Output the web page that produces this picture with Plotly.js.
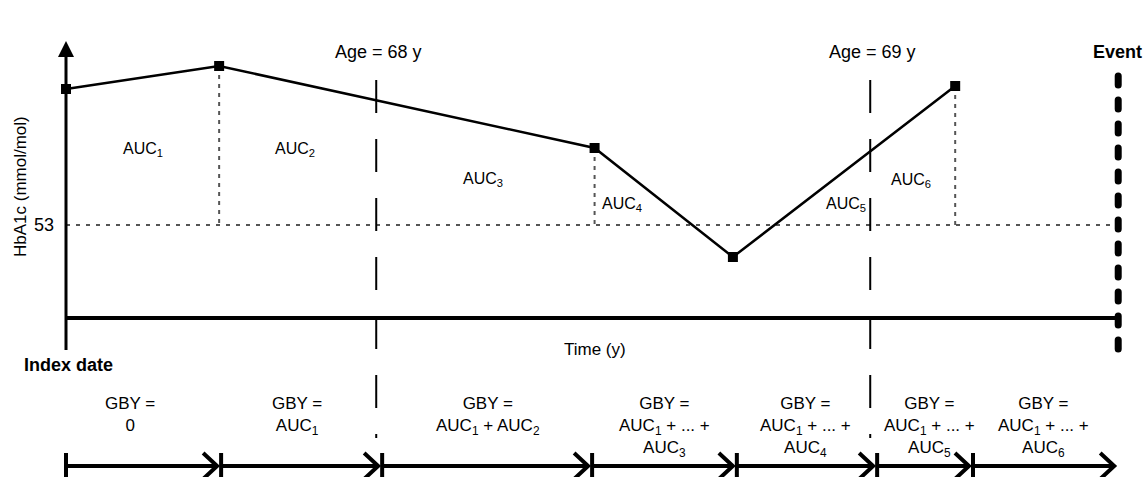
<!DOCTYPE html>
<html><head><meta charset="utf-8">
<script src="https://cdn.plot.ly/plotly-3.0.1.min.js"></script>
<style>html,body{margin:0;padding:0;background:#fff;overflow:hidden;} #chart{width:1144px;height:477px;}</style>
</head><body><div id="chart"></div>
<script>
// ---------------- data ----------------
const measTimes   = [0, 0.31, 1.07, 1.35, 1.80];       // years since index date
const hba1cValues = [66.6, 68.9, 60.7, 49.8, 66.9];    // HbA1c, mmol/mol
const threshold = 53;
const thresholdLabel = '53';
const baselineValue = 43.7;                             // bottom of the HbA1c axis
const ageTimes  = [0.628, 1.628];
const ageLabels = ['Age = 68 y', 'Age = 69 y'];
const eventTime = 2.13;
const eventLabel = 'Event';
const aucLabels = ['AUC<sub>1</sub>', 'AUC<sub>2</sub>', 'AUC<sub>3</sub>', 'AUC<sub>4</sub>', 'AUC<sub>5</sub>', 'AUC<sub>6</sub>'];
const gbyStarts = [0, 0.314, 0.640, 1.065, 1.358, 1.642, 1.836];
const gbyLabels = [
  'GBY =<br>0',
  'GBY =<br>AUC<sub>1</sub>',
  'GBY =<br>AUC<sub>1</sub> + AUC<sub>2</sub>',
  'GBY =<br>AUC<sub>1</sub> + ... +<br>AUC<sub>3</sub>',
  'GBY =<br>AUC<sub>1</sub> + ... +<br>AUC<sub>4</sub>',
  'GBY =<br>AUC<sub>1</sub> + ... +<br>AUC<sub>5</sub>',
  'GBY =<br>AUC<sub>1</sub> + ... +<br>AUC<sub>6</sub>'
];
const yTitle = 'HbA1c (mmol/mol)';
const xTitle = 'Time (y)';
const originLabel = 'Index date';

// ---------------- frame ----------------
const W = 1144, H = 477;
const X_RANGE = [-0.1336, 2.1822];
const Y_RANGE = [27.8, 75.5];
const dx = p => p * (X_RANGE[1] - X_RANGE[0]) / W;
const dy = p => p * (Y_RANGE[1] - Y_RANGE[0]) / H;
const xAt = p => X_RANGE[0] + dx(p);
const yAt = p => Y_RANGE[1] - dy(p);

const FONT = 'Liberation Sans, Arial, sans-serif';
const BLACK = '#000';

const traces = [];
// threshold dotted line
traces.push({x: [0, eventTime], y: [threshold, threshold], mode: 'lines',
  line: {color: '#555', width: 2, dash: '4px,6px'}, hoverinfo: 'skip'});
// drop lines from measurements to threshold
const dropX = [], dropY = [];
measTimes.forEach((t, i) => {
  if (i > 0 && hba1cValues[i] > threshold) {
    dropX.push(t, t, null); dropY.push(hba1cValues[i], threshold, null);
  }
});
traces.push({x: dropX, y: dropY, mode: 'lines', line: {color: '#555', width: 2, dash: '4px,5px'}, hoverinfo: 'skip'});
// age dashed lines
ageTimes.forEach(a => traces.push({x: [a, a], y: [yAt(80), yAt(438)], mode: 'lines',
  line: {color: BLACK, width: 2, dash: '33px,26px'}, hoverinfo: 'skip'}));
// axes
traces.push({x: [0, eventTime], y: [baselineValue, baselineValue], mode: 'lines', line: {color: BLACK, width: 4}, hoverinfo: 'skip'});
traces.push({x: [0, 0], y: [yAt(350), yAt(55)], mode: 'lines', line: {color: BLACK, width: 3}, hoverinfo: 'skip'});
// event line
const eventIdx = traces.length;
traces.push({x: [eventTime, eventTime], y: [yAt(76), yAt(356)], mode: 'lines',
  line: {color: BLACK, width: 7, dash: '9px,15px'}, hoverinfo: 'skip'});
// HbA1c series
traces.push({x: measTimes, y: hba1cValues, mode: 'lines+markers',
  line: {color: BLACK, width: 2.5}, marker: {symbol: 'square', size: 10, color: BLACK}, hoverinfo: 'skip'});
// GBY interval arrows
const rowY = yAt(466);
const arX = [], arY = [], tkX = [], tkY = [];
gbyStarts.forEach((s, i) => {
  const e = i < gbyStarts.length - 1 ? gbyStarts[i + 1] : eventTime;
  const tip = e - dx(4);
  arX.push(s, tip, null, tip - dx(14), tip, tip - dx(14), null);
  arY.push(rowY, rowY, null, yAt(453), rowY, yAt(479), null);
  tkX.push(s, s, null); tkY.push(yAt(453), yAt(480), null);
});
traces.push({x: arX, y: arY, mode: 'lines', line: {color: BLACK, width: 4}, hoverinfo: 'skip'});
traces.push({x: tkX, y: tkY, mode: 'lines', line: {color: BLACK, width: 4}, hoverinfo: 'skip'});

// ---------------- annotations ----------------
const ann = [];
const txt = (x, y, text, size, opts = {}) => ann.push(Object.assign({x, y, text, showarrow: false,
  xref: 'x', yref: 'y', font: {family: FONT, size: size, color: BLACK}}, opts));

ageTimes.forEach((a, i) => txt(a + dx(2), yAt(52), ageLabels[i], 18));
txt(xAt(1144), yAt(52), '<b>' + eventLabel + '</b>', 18, {xanchor: 'right'});
txt(xAt(56), threshold, thresholdLabel, 18, {xanchor: 'right'});
txt(xAt(20), yAt(187), yTitle, 17, {textangle: -90});
txt(xAt(22), yAt(365), '<b>' + originLabel + '</b>', 18, {xanchor: 'left'});
txt(xAt(595), yAt(349), xTitle, 17);
const aucPos = [[143, 149], [295, 149], [483, 179], [622, 204], [846, 204], [911, 180]];
aucLabels.forEach((l, i) => txt(xAt(aucPos[i][0]), yAt(aucPos[i][1]), l, 16));
const gbyCx = [130, 297, 488, 664, 805, 929, 1043];
gbyLabels.forEach((l, i) => txt(xAt(gbyCx[i]), yAt(392), l, 17, {yanchor: 'top'}));

// ---------------- layout ----------------
const layout = {
  width: W, height: H, margin: {l: 0, r: 0, t: 0, b: 0},
  paper_bgcolor: '#fff', plot_bgcolor: '#fff', showlegend: false,
  font: {family: FONT, size: 17, color: BLACK},
  xaxis: {range: X_RANGE, visible: false, fixedrange: true},
  yaxis: {range: Y_RANGE, visible: false, fixedrange: true},
  shapes: [{type: 'path', xref: 'x', yref: 'y', fillcolor: BLACK, line: {color: BLACK, width: 0},
    path: `M ${0 - dx(8)},${yAt(57)} L 0,${yAt(41)} L ${0 + dx(8)},${yAt(57)} Z`}],
  annotations: ann
};

Plotly.newPlot('chart', traces, layout, {staticPlot: true, displayModeBar: false}).then(gd => {
  const tr = gd.querySelectorAll('.scatterlayer .trace')[eventIdx];
  if (tr) tr.querySelectorAll('path.js-line').forEach(p => p.style.strokeLinecap = 'round');
});
</script></body></html>
